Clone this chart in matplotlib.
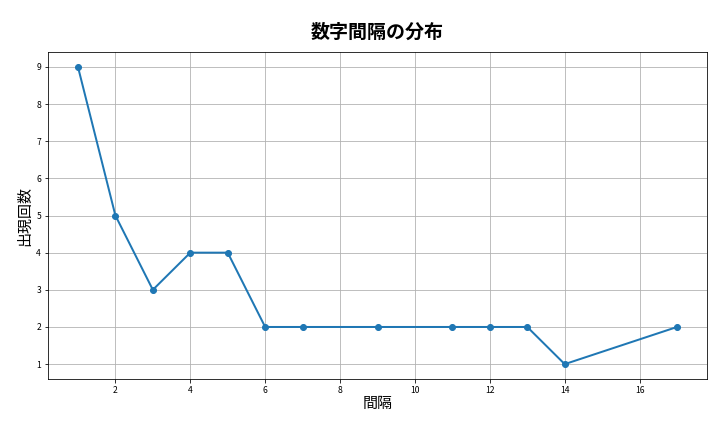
import matplotlib
matplotlib.use("Agg")
import matplotlib.pyplot as plt

plt.rcParams['font.family'] = ['Noto Sans CJK JP', 'DejaVu Sans']

intervals = [1, 2, 3, 4, 5, 6, 7, 9, 11, 12, 13, 14, 17]
counts = [9, 5, 3, 4, 4, 2, 2, 2, 2, 2, 2, 1, 2]

fig = plt.figure(figsize=(10, 6), dpi=72)
ax = fig.add_axes([48/720, 53/432, 659/720, 327/432])
ax.plot(intervals, counts, marker='o', color='#1f77b4', linewidth=2, markersize=6)
ax.set_title('数字間隔の分布', fontsize=19, fontweight='bold', pad=14)
ax.set_xlabel('間隔', fontsize=15, labelpad=2)
ax.set_ylabel('出現回数', fontsize=15, labelpad=4)
ax.tick_params(labelsize=8.5)
ax.grid(True, color='#b0b0b0', linewidth=0.8)
fig.savefig('out.png', dpi=72)
